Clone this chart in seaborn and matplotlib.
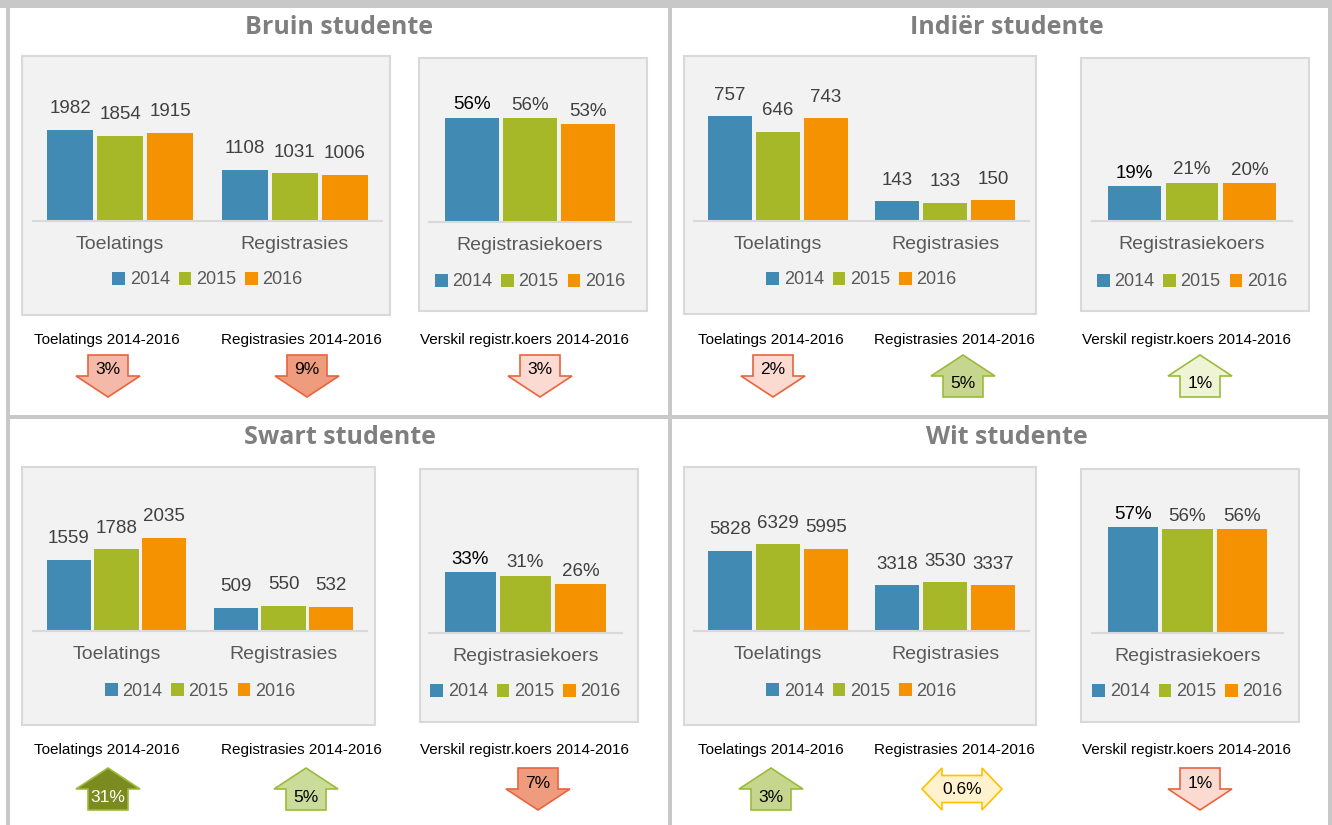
import numpy as np
import pandas as pd
import matplotlib
matplotlib.use('Agg')
import matplotlib.pyplot as plt
from matplotlib.patches import Rectangle, Polygon
import seaborn as sns

# ---- data ----
groups = ['Bruin studente', 'Indiër studente', 'Swart studente', 'Wit studente']
years = ['2014', '2015', '2016']
categories = ['Toelatings', 'Registrasies']
rate_category = ['Registrasiekoers']

bruin_toel = [1982, 1854, 1915]
bruin_reg = [1108, 1031, 1006]
bruin_koers = [0.559, 0.556, 0.526]

indier_toel = [757, 646, 743]
indier_reg = [143, 133, 150]
indier_koers = [0.189, 0.206, 0.202]

swart_toel = [1559, 1788, 2035]
swart_reg = [509, 550, 532]
swart_koers = [0.326, 0.308, 0.261]

wit_toel = [5828, 6329, 5995]
wit_reg = [3318, 3530, 3337]
wit_koers = [0.569, 0.558, 0.557]

arrow_labels = ['Toelatings 2014-2016', 'Registrasies 2014-2016', 'Verskil registr.koers 2014-2016']
bruin_change = ['3%', '9%', '3%']
bruin_dir = ['down', 'down', 'down']
indier_change = ['2%', '5%', '1%']
indier_dir = ['down', 'up', 'up']
swart_change = ['31%', '5%', '7%']
swart_dir = ['up', 'up', 'down']
wit_change = ['3%', '0.6%', '1%']
wit_dir = ['up', 'both', 'down']

# ---- styling / layout ----
palette = {'2014': '#418ab3', '2015': '#a6b727', '2016': '#f59201'}
count_ymax = [2430, 810, 2450, 8150]
rate_ymax = 0.6

arrow_fill = [['#f4b9a8', '#ee9b7e', '#fadad1'],
              ['#fadad1', '#c6d68f', '#eff5d4'],
              ['#7b8b1f', '#cadb9a', '#ee9b7e'],
              ['#c6d68f', '#fff2cc', '#fadad1']]
edge_col = {'down': '#e8643c', 'up': '#9bbb3b', 'both': '#ffc000'}

W, H = 1332, 825
title_pos = [(339, 27), (1007, 27), (340, 438), (1007, 438)]
panel1 = [(22, 56, 390, 315), (684, 56, 1036, 314), (22, 467, 375, 725), (684, 467, 1036, 725)]
panel2 = [(419, 58, 647, 311), (1081, 58, 1309, 311), (420, 469, 638, 722), (1081, 469, 1299, 722)]
count_box = [(33, 109, 382, 221), (694, 109, 1029, 221), (33, 519, 367, 631), (694, 519, 1029, 631)]
rate_box = [(429, 110, 631, 222), (1092, 109, 1292, 221), (429, 521, 622, 633), (1092, 521, 1283, 633)]
legend_y = [(280, 282), (280, 282), (691, 692), (691, 692)]
label_x = [[107, 301, 525], [771, 954, 1187], [107, 301, 525], [771, 954, 1187]]
arrow_x = [[108, 307, 540], [773, 963, 1200], [108, 306, 538], [771, 962, 1200]]
label_y = [340, 340, 750, 750]
arrow_top = [355, 355, 768, 768]

plt.rcParams['font.family'] = ['Liberation Sans', 'DejaVu Sans']

fig = plt.figure(figsize=(W / 100, H / 100), dpi=100)


def fbox(x0, y0, x1, y1):
    return [x0 / W, 1 - y1 / H, (x1 - x0) / W, (y1 - y0) / H]


def pt(x, y):
    return (x / W, 1 - y / H)


def add_rect(x0, y0, x1, y1, fc, ec='none', lw=0):
    fig.add_artist(Rectangle(pt(x0, y1), (x1 - x0) / W, (y1 - y0) / H, transform=fig.transFigure,
                             facecolor=fc, edgecolor=ec, linewidth=lw, zorder=-1))


def style_axes(ax, ymax, legend_x, ly):
    ax.set_ylim(0, ymax)
    ax.set_xlabel('')
    ax.set_ylabel('')
    ax.set_yticks([])
    ax.set_facecolor('none')
    ax.tick_params(axis='x', length=0, pad=10.5, labelsize=14, labelcolor='#595959')
    for s in ['top', 'left', 'right']:
        ax.spines[s].set_visible(False)
    ax.spines['bottom'].set_color('#d9d9d9')
    ax.spines['bottom'].set_linewidth(1.5)
    handles, labels = ax.get_legend_handles_labels()
    ax.legend(handles, labels, loc='center', bbox_to_anchor=pt(legend_x, ly), bbox_transform=fig.transFigure,
              ncol=3, frameon=False, fontsize=13, handlelength=0.7, handleheight=0.7,
              handletextpad=0.25, columnspacing=0.5, labelcolor='#595959')


def draw_arrow(cx, top, kind, text, fill):
    sw, hw, h, hh = 40, 64, 42, 21
    if kind == 'down':
        v = [(cx - sw / 2, top), (cx + sw / 2, top), (cx + sw / 2, top + h - hh), (cx + hw / 2, top + h - hh),
             (cx, top + h), (cx - hw / 2, top + h - hh), (cx - sw / 2, top + h - hh)]
        ty = top + 15
    elif kind == 'up':
        v = [(cx, top), (cx + hw / 2, top + hh), (cx + sw / 2, top + hh), (cx + sw / 2, top + h),
             (cx - sw / 2, top + h), (cx - sw / 2, top + hh), (cx - hw / 2, top + hh)]
        ty = top + 29
    else:
        cy = top + h / 2
        v = [(cx - 40, cy), (cx - 20, cy - 21), (cx - 20, cy - 13.5), (cx + 20, cy - 13.5), (cx + 20, cy - 21),
             (cx + 40, cy), (cx + 20, cy + 21), (cx + 20, cy + 13.5), (cx - 20, cy + 13.5), (cx - 20, cy + 21)]
        ty = cy
    fig.add_artist(Polygon([pt(x, y) for x, y in v], closed=True, transform=fig.transFigure,
                           facecolor=fill, edgecolor=edge_col[kind], linewidth=1.2))
    tc = 'white' if fill == '#7b8b1f' else 'black'
    fig.text(*pt(cx, ty), text, ha='center', va='center', fontsize=12.5, color=tc)


# grey frame lines
add_rect(0, 0, W, 8, '#c8c8c8')
add_rect(6, 0, 10, H, '#c8c8c8')
add_rect(1328, 0, W, H, '#c8c8c8')
add_rect(668, 0, 672, H, '#c8c8c8')
add_rect(6, 415, W, 419, '#c8c8c8')

toel_all = [bruin_toel, indier_toel, swart_toel, wit_toel]
reg_all = [bruin_reg, indier_reg, swart_reg, wit_reg]
koers_all = [bruin_koers, indier_koers, swart_koers, wit_koers]
change_all = [bruin_change, indier_change, swart_change, wit_change]
dir_all = [bruin_dir, indier_dir, swart_dir, wit_dir]

for i, name in enumerate(groups):
    fig.text(*pt(*title_pos[i]), name, ha='center', va='center', fontsize=18, fontweight='bold',
             family='Open Sans', color='#7f7f7f')
    add_rect(*panel1[i], '#f2f2f2', '#d9d9d9', 1.5)
    add_rect(*panel2[i], '#f2f2f2', '#d9d9d9', 1.5)

    # admissions / registrations
    ax = fig.add_axes(fbox(*count_box[i]))
    df = pd.DataFrame({'kategorie': np.repeat(categories, 3), 'jaar': years * 2,
                       'waarde': toel_all[i] + reg_all[i]})
    sns.barplot(data=df, x='kategorie', y='waarde', hue='jaar', palette=palette, width=0.86, gap=0.08,
                saturation=1, errorbar=None, ax=ax)
    for c in ax.containers:
        ax.bar_label(c, labels=[f'{v:.0f}' for v in c.datavalues], padding=9, fontsize=13.5, color='#404040')
    cb = count_box[i]
    style_axes(ax, count_ymax[i], (cb[0] + cb[2]) / 2, legend_y[i][0])

    # registration rate
    ax2 = fig.add_axes(fbox(*rate_box[i]))
    df2 = pd.DataFrame({'kategorie': rate_category * 3, 'jaar': years, 'koers': koers_all[i]})
    sns.barplot(data=df2, x='kategorie', y='koers', hue='jaar', palette=palette, width=0.86, gap=0.08,
                saturation=1, errorbar=None, ax=ax2)
    for k, c in enumerate(ax2.containers):
        ax2.bar_label(c, labels=[f'{v * 100:.0f}%' for v in c.datavalues], padding=3, fontsize=13.5,
                      color='#000000' if k == 0 else '#404040')
    rb = rate_box[i]
    style_axes(ax2, rate_ymax, (rb[0] + rb[2]) / 2, legend_y[i][1])

    # change arrows
    for j in range(3):
        fig.text(*pt(label_x[i][j], label_y[i]), arrow_labels[j], ha='center', va='center', fontsize=11,
                 color='black')
        draw_arrow(arrow_x[i][j], arrow_top[i], dir_all[i][j], change_all[i][j], arrow_fill[i][j])

fig.savefig('out.png', dpi=100, facecolor='white')
